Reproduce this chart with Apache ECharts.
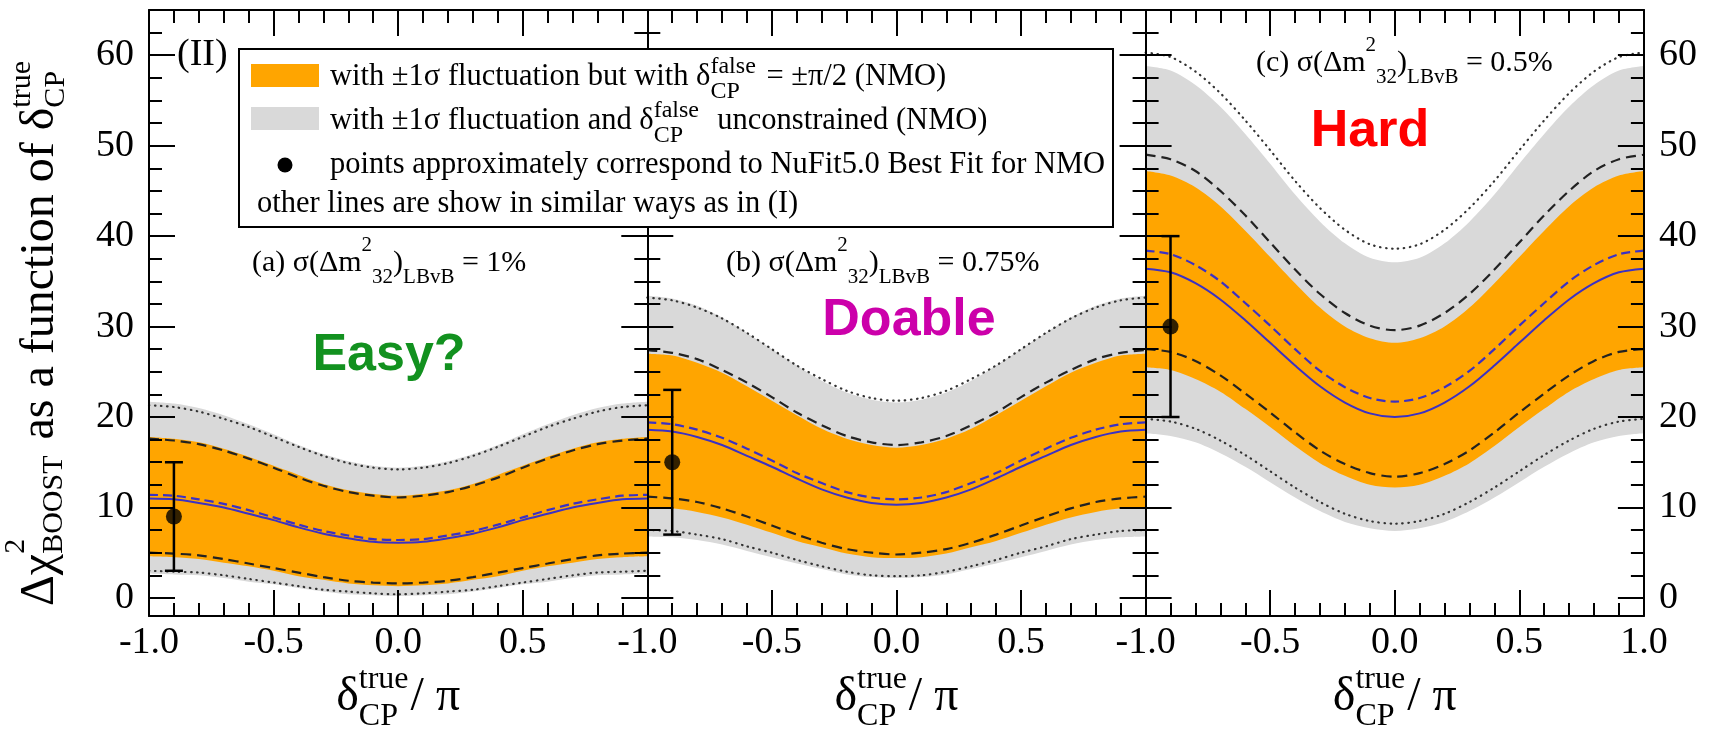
<!DOCTYPE html>
<html>
<head>
<meta charset="utf-8">
<script src="https://cdn.jsdelivr.net/npm/echarts@6/dist/echarts.min.js"></script>
<style>
  html, body { margin: 0; padding: 0; background: #fff; }
  #chart { width: 1713px; height: 731px; }
</style>
</head>
<body>
<div id="chart"></div>
<script>
// δ_CP^true / π sample positions shared by every curve
const deltaGrid = [-1, -0.9, -0.8, -0.7, -0.6, -0.5, -0.4, -0.3, -0.2, -0.1, 0,
                   0.1, 0.2, 0.3, 0.4, 0.5, 0.6, 0.7, 0.8, 0.9, 1];

// (a) σ(Δm²32) = 1%
const aGreyUpper   = [21.7, 21.5, 21.0, 20.2, 19.2, 18.1, 16.9, 15.9, 15.1, 14.6, 14.4, 14.6, 15.1, 15.9, 16.9, 18.1, 19.2, 20.2, 21.0, 21.5, 21.7];
const aGreyLower   = [2.7, 2.6, 2.5, 2.2, 1.8, 1.5, 1.1, 0.7, 0.4, 0.3, 0.2, 0.3, 0.4, 0.7, 1.1, 1.5, 1.8, 2.2, 2.5, 2.6, 2.7];
const aOrangeUpper = [17.8, 17.6, 17.2, 16.5, 15.6, 14.6, 13.6, 12.6, 11.9, 11.5, 11.3, 11.5, 11.9, 12.6, 13.6, 14.6, 15.6, 16.5, 17.2, 17.6, 17.8];
const aOrangeLower = [4.6, 4.5, 4.3, 3.9, 3.5, 3.0, 2.4, 2.0, 1.6, 1.4, 1.3, 1.4, 1.6, 2.0, 2.4, 3.0, 3.5, 3.9, 4.3, 4.5, 4.6];
const aDotUpper    = [21.3, 21.1, 20.6, 19.8, 18.9, 17.8, 16.7, 15.7, 14.9, 14.4, 14.2, 14.4, 14.9, 15.7, 16.7, 17.8, 18.9, 19.8, 20.6, 21.1, 21.3];
const aDotLower    = [3.0, 2.9, 2.8, 2.5, 2.1, 1.7, 1.3, 0.9, 0.7, 0.5, 0.4, 0.5, 0.7, 0.9, 1.3, 1.7, 2.1, 2.5, 2.8, 2.9, 3.0];
const aDashUpper   = [17.6, 17.4, 17.0, 16.3, 15.4, 14.4, 13.3, 12.4, 11.7, 11.3, 11.1, 11.3, 11.7, 12.4, 13.3, 14.4, 15.4, 16.3, 17.0, 17.4, 17.6];
const aDashLower   = [5.0, 4.9, 4.7, 4.3, 3.8, 3.3, 2.8, 2.3, 1.9, 1.7, 1.6, 1.7, 1.9, 2.3, 2.8, 3.3, 3.8, 4.3, 4.7, 4.9, 5.0];
const aBlueSolid   = [11.0, 10.9, 10.5, 10.0, 9.3, 8.6, 7.8, 7.1, 6.6, 6.2, 6.1, 6.2, 6.6, 7.1, 7.8, 8.6, 9.3, 10.0, 10.5, 10.9, 11.0];
const aBlueDashed  = [11.4, 11.3, 10.9, 10.4, 9.7, 8.9, 8.1, 7.4, 6.9, 6.5, 6.4, 6.5, 6.9, 7.4, 8.1, 8.9, 9.7, 10.4, 10.9, 11.3, 11.4];

// (b) σ(Δm²32) = 0.75%
const bGreyUpper   = [33.4, 33.1, 32.3, 31.0, 29.3, 27.5, 25.7, 24.0, 22.7, 21.9, 21.6, 21.9, 22.7, 24.0, 25.7, 27.5, 29.3, 31.0, 32.3, 33.1, 33.4];
const bGreyLower   = [6.8, 6.7, 6.4, 5.9, 5.2, 4.5, 3.8, 3.2, 2.6, 2.3, 2.2, 2.3, 2.6, 3.2, 3.8, 4.5, 5.2, 5.9, 6.4, 6.7, 6.8];
const bOrangeUpper = [27.0, 26.8, 26.0, 24.9, 23.4, 21.8, 20.2, 18.7, 17.6, 16.9, 16.6, 16.9, 17.6, 18.7, 20.2, 21.8, 23.4, 24.9, 26.0, 26.8, 27.0];
const bOrangeLower = [10.0, 9.9, 9.5, 8.9, 8.1, 7.2, 6.3, 5.6, 4.9, 4.5, 4.4, 4.5, 4.9, 5.6, 6.3, 7.2, 8.1, 8.9, 9.5, 9.9, 10.0];
const bDotUpper    = [33.2, 32.9, 32.1, 30.9, 29.3, 27.5, 25.7, 24.2, 22.9, 22.1, 21.8, 22.1, 22.9, 24.2, 25.7, 27.5, 29.3, 30.9, 32.1, 32.9, 33.2];
const bDotLower    = [7.5, 7.4, 7.0, 6.5, 5.7, 5.0, 4.2, 3.5, 2.9, 2.5, 2.4, 2.5, 2.9, 3.5, 4.2, 5.0, 5.7, 6.5, 7.0, 7.4, 7.5];
const bDashUpper   = [27.4, 27.1, 26.4, 25.2, 23.8, 22.2, 20.5, 19.1, 17.9, 17.2, 16.9, 17.2, 17.9, 19.1, 20.5, 22.2, 23.8, 25.2, 26.4, 27.1, 27.4];
const bDashLower   = [11.2, 11.0, 10.6, 9.9, 9.0, 8.0, 7.0, 6.1, 5.4, 5.0, 4.8, 5.0, 5.4, 6.1, 7.0, 8.0, 9.0, 9.9, 10.6, 11.0, 11.2];
const bBlueSolid   = [18.6, 18.4, 17.8, 16.9, 15.7, 14.5, 13.2, 12.0, 11.1, 10.5, 10.3, 10.5, 11.1, 12.0, 13.2, 14.5, 15.7, 16.9, 17.8, 18.4, 18.6];
const bBlueDashed  = [19.4, 19.2, 18.6, 17.7, 16.5, 15.2, 13.8, 12.7, 11.7, 11.1, 10.9, 11.1, 11.7, 12.7, 13.8, 15.2, 16.5, 17.7, 18.6, 19.2, 19.4];

// (c) σ(Δm²32) = 0.5%
const cGreyUpper   = [58.8, 58.3, 56.7, 54.3, 51.3, 48.0, 44.6, 41.6, 39.2, 37.6, 37.1, 37.6, 39.2, 41.6, 44.6, 48.0, 51.3, 54.3, 56.7, 58.3, 58.8];
const cGreyLower   = [18.2, 17.9, 17.2, 16.0, 14.5, 12.8, 11.1, 9.6, 8.4, 7.7, 7.4, 7.7, 8.4, 9.6, 11.1, 12.8, 14.5, 16.0, 17.2, 17.9, 18.2];
const cOrangeUpper = [47.2, 46.7, 45.4, 43.3, 40.6, 37.7, 34.8, 32.1, 30.0, 28.7, 28.2, 28.7, 30.0, 32.1, 34.8, 37.7, 40.6, 43.3, 45.4, 46.7, 47.2];
const cOrangeLower = [25.5, 25.2, 24.2, 22.8, 20.9, 18.9, 16.8, 14.9, 13.5, 12.5, 12.2, 12.5, 13.5, 14.9, 16.8, 18.9, 20.9, 22.8, 24.2, 25.2, 25.5];
const cDotUpper    = [60.3, 59.8, 58.2, 55.8, 52.8, 49.5, 46.1, 43.1, 40.7, 39.1, 38.6, 39.1, 40.7, 43.1, 46.1, 49.5, 52.8, 55.8, 58.2, 59.8, 60.3];
const cDotLower    = [19.8, 19.5, 18.7, 17.4, 15.8, 14.0, 12.2, 10.6, 9.3, 8.5, 8.2, 8.5, 9.3, 10.6, 12.2, 14.0, 15.8, 17.4, 18.7, 19.5, 19.8];
const cDashUpper   = [49.0, 48.5, 47.2, 45.0, 42.3, 39.3, 36.3, 33.6, 31.5, 30.1, 29.6, 30.1, 31.5, 33.6, 36.3, 39.3, 42.3, 45.0, 47.2, 48.5, 49.0];
const cDashLower   = [27.5, 27.2, 26.2, 24.6, 22.6, 20.5, 18.3, 16.3, 14.8, 13.8, 13.4, 13.8, 14.8, 16.3, 18.3, 20.5, 22.6, 24.6, 26.2, 27.2, 27.5];
const cBlueSolid   = [36.4, 36.0, 34.8, 33.0, 30.7, 28.2, 25.7, 23.4, 21.6, 20.4, 20.0, 20.4, 21.6, 23.4, 25.7, 28.2, 30.7, 33.0, 34.8, 36.0, 36.4];
const cBlueDashed  = [38.4, 38.0, 36.8, 35.0, 32.6, 30.1, 27.5, 25.1, 23.3, 22.1, 21.7, 22.1, 23.3, 25.1, 27.5, 30.1, 32.6, 35.0, 36.8, 38.0, 38.4];

// NuFit5.0 best-fit points with their error bars, one per panel
const bestFitX    = [-0.9, -0.9, -0.9];
const bestFitY    = [9, 15, 30];
const bestFitLow  = [3, 7, 20];
const bestFitHigh = [15, 23, 40];

// y tick positions
const yMajorTicks = [0, 10, 20, 30, 40, 50, 60];
const yMinorTicks = [2.5, 5, 7.5, 12.5, 15, 17.5, 22.5, 25, 27.5, 32.5, 35, 37.5,
                     42.5, 45, 47.5, 52.5, 55, 57.5, 62.5];

const panelLabels = ['1%', '0.75%', '0.5%'];
const panelTags = ['(a)', '(b)', '(c)'];
const verdicts = ['Easy?', 'Doable', 'Hard'];
const verdictColors = ['#12911f', '#cc00aa', '#ff0000'];

const panels = [
  { grey: [aGreyUpper, aGreyLower], orange: [aOrangeUpper, aOrangeLower], dot: [aDotUpper, aDotLower],
    dash: [aDashUpper, aDashLower], solid: aBlueSolid, bdash: aBlueDashed },
  { grey: [bGreyUpper, bGreyLower], orange: [bOrangeUpper, bOrangeLower], dot: [bDotUpper, bDotLower],
    dash: [bDashUpper, bDashLower], solid: bBlueSolid, bdash: bBlueDashed },
  { grey: [cGreyUpper, cGreyLower], orange: [cOrangeUpper, cOrangeLower], dot: [cDotUpper, cDotLower],
    dash: [cDashUpper, cDashLower], solid: cBlueSolid, bdash: cBlueDashed }
];

const SERIF = '"Liberation Serif", serif';
const SANS = '"Liberation Sans", Arial, sans-serif';
const GREY = '#d9d9d9', ORANGE = '#ffa500', BLUE = '#3b31c4';

const PLOT_LEFT = 149, PLOT_TOP = 10, PANEL_W = 498.3, PLOT_H = 606;

const pairs = (ys) => deltaGrid.map((x, i) => [x, ys[i]]);

// ---------- text layout helpers (super/subscripts) ----------
const measureCtx = document.createElement('canvas').getContext('2d');
function textW(str, size, family, weight) {
  measureCtx.font = (weight || 'normal') + ' ' + size + 'px ' + family;
  return measureCtx.measureText(str).width;
}
function txt(str, x, y, size, family, opts) {
  opts = opts || {};
  const font = (opts.weight || 'normal') + ' ' + size + 'px ' + family;
  return {
    type: 'text', x: x, y: y, z: 100, silent: true,
    style: {
      text: str, font: font, fill: opts.color || '#000',
      textAlign: opts.align || 'left', textVerticalAlign: 'middle',
      align: opts.align || 'left', verticalAlign: 'middle'
    }
  };
}
// parts: {t, size} plain run | {sup, sub, size, supDy, subDy} script block
function mathRun(parts, family) {
  const els = [];
  let cx = 0;
  parts.forEach(p => {
    if (p.t != null) {
      els.push(txt(p.t, cx, p.dy || 0, p.size, family));
      cx += textW(p.t, p.size, family);
    } else {
      let w = 0;
      if (p.sup != null) {
        els.push(txt(p.sup, cx, p.supDy, p.size, family));
        w = Math.max(w, textW(p.sup, p.size, family));
      }
      if (p.sub != null) {
        els.push(txt(p.sub, cx, p.subDy, p.size, family));
        w = Math.max(w, textW(p.sub, p.size, family));
      }
      cx += w + (p.gap || 0);
    }
  });
  return { els: els, width: cx };
}
function placeRun(run, x, y, align, rotation) {
  const shift = align === 'center' ? -run.width / 2 : 0;
  run.els.forEach(e => { e.x += shift; });
  return { type: 'group', x: x, y: y, rotation: rotation || 0, silent: true, children: run.els, z: 100 };
}

// ---------- grids and axes ----------
const grid = [], xAxis = [], yAxis = [], series = [];
const axisColor = { color: '#000', width: 2 };

for (let g = 0; g < 3; g++) {
  grid.push({ left: PLOT_LEFT + g * PANEL_W, top: PLOT_TOP, width: PANEL_W, height: PLOT_H });

  const xCommon = {
    type: 'value', gridIndex: g, min: -1, max: 1, interval: 0.5, z: 10,
    axisLine: { onZero: false, lineStyle: axisColor },
    axisTick: { inside: true, length: 26, lineStyle: axisColor },
    minorTick: { show: true, splitNumber: 5, length: 13, lineStyle: axisColor },
    splitLine: { show: false }, minorSplitLine: { show: false }
  };
  xAxis.push(Object.assign({}, xCommon, {
    position: 'bottom',
    axisLabel: {
      show: true, margin: 8, fontSize: 38, fontFamily: 'Liberation Serif', color: '#000',
      formatter: v => (g < 2 && v === 1) ? '' : v.toFixed(1)
    }
  }));
  xAxis.push(Object.assign({}, xCommon, { position: 'top', axisLabel: { show: false } }));

  ['left', 'right'].forEach(side => {
    const showLabels = (side === 'left' && g === 0) || (side === 'right' && g === 2);
    yAxis.push({
      type: 'value', gridIndex: g, position: side, min: -2, max: 65, z: 10,
      axisLine: { show: true, onZero: false, lineStyle: axisColor },
      axisTick: { inside: true, length: 26, lineStyle: axisColor, customValues: yMajorTicks },
      axisLabel: {
        show: showLabels, customValues: yMajorTicks, margin: 15,
        fontSize: 38, fontFamily: 'Liberation Serif', color: '#000'
      },
      splitLine: { show: false }
    });
    yAxis.push({
      type: 'value', gridIndex: g, position: side, min: -2, max: 65, z: 10,
      axisLine: { show: false, onZero: false },
      axisTick: { inside: true, length: 13, lineStyle: axisColor, customValues: yMinorTicks },
      axisLabel: { show: false },
      splitLine: { show: false }
    });
  });

  const xi = 2 * g, yi = 4 * g;
  const p = panels[g];
  const area = (ys, fill, z) => ({
    type: 'line', xAxisIndex: xi, yAxisIndex: yi, data: pairs(ys), smooth: 0.3,
    symbol: 'none', silent: true, z: z,
    lineStyle: { width: 0, opacity: 0 },
    areaStyle: { color: fill, opacity: 1, origin: 'start' }
  });
  const curve = (ys, style, z) => ({
    type: 'line', xAxisIndex: xi, yAxisIndex: yi, data: pairs(ys), smooth: 0.3,
    symbol: 'none', silent: true, z: z, lineStyle: style
  });
  // bands, painted outside-in
  series.push(area(p.grey[0], GREY, 1));
  series.push(area(p.orange[0], ORANGE, 2));
  series.push(area(p.orange[1], GREY, 3));
  series.push(area(p.grey[1], '#ffffff', 4));
  // boundary curves
  const dotted = { color: '#333', width: 2.2, type: [0.5, 5.5], cap: 'round' };
  const dashed = { color: '#222', width: 2.2, type: [10, 6] };
  series.push(curve(p.dot[0], dotted, 5));
  series.push(curve(p.dot[1], dotted, 5));
  series.push(curve(p.dash[0], dashed, 5));
  series.push(curve(p.dash[1], dashed, 5));
  series.push(curve(p.bdash, { color: BLUE, width: 2.2, type: [9, 5] }, 5));
  series.push(curve(p.solid, { color: BLUE, width: 2 }, 5));

  // error bar + best-fit marker
  series.push({
    type: 'custom', xAxisIndex: xi, yAxisIndex: yi, z: 7, silent: true,
    data: [[bestFitX[g], bestFitLow[g], bestFitHigh[g]]],
    encode: { x: 0, y: [1, 2] },
    renderItem: (params, api) => {
      const x = api.value(0);
      const lo = api.coord([x, api.value(1)]);
      const hi = api.coord([x, api.value(2)]);
      const cap = 9;
      const st = { stroke: '#000', lineWidth: 2.5 };
      return {
        type: 'group', children: [
          { type: 'line', shape: { x1: lo[0], y1: lo[1], x2: hi[0], y2: hi[1] }, style: st },
          { type: 'line', shape: { x1: lo[0] - cap, y1: lo[1], x2: lo[0] + cap, y2: lo[1] }, style: st },
          { type: 'line', shape: { x1: hi[0] - cap, y1: hi[1], x2: hi[0] + cap, y2: hi[1] }, style: st }
        ]
      };
    }
  });
  series.push({
    type: 'scatter', xAxisIndex: xi, yAxisIndex: yi, z: 8, silent: true,
    data: [[bestFitX[g], bestFitY[g]]], symbolSize: 16, itemStyle: { color: '#000' }
  });
}

// ---------- annotations ----------
const graphics = [];
const SUP = 21;

// x-axis titles
for (let g = 0; g < 3; g++) {
  const cx = PLOT_LEFT + g * PANEL_W + PANEL_W / 2;
  const run = mathRun([
    { t: 'δ', size: 48 },
    { sup: 'true', sub: 'CP', size: 32, supDy: -17, subDy: 20, gap: 2 },
    { t: '/ π', size: 48 }
  ], SERIF);
  graphics.push(placeRun(run, cx, 697, 'center'));
}

// y-axis title, rotated
(function () {
  const run = mathRun([
    { t: 'Δχ', size: 48 },
    { sup: '2', sub: 'BOOST', size: 30, supDy: -24, subDy: 14, gap: 4 },
    { t: ' as a function of δ', size: 48 },
    { sup: 'true', sub: 'CP', size: 30, supDy: -18, subDy: 16 }
  ], SERIF);
  graphics.push(placeRun(run, 40, 606, 'left', Math.PI / 2));
})();

// panel condition labels
const labelAnchors = [[252, 263], [726, 263], [1256, 63]];
for (let g = 0; g < 3; g++) {
  const run = mathRun([
    { t: panelTags[g] + ' σ(Δm', size: 30 },
    { sup: '2', size: SUP, supDy: -18 },
    { sub: '32', size: SUP, subDy: 14 },
    { t: ')', size: 30 },
    { sub: 'LBvB', size: SUP, subDy: 14 },
    { t: ' = ' + panelLabels[g], size: 30 }
  ], SERIF);
  graphics.push(placeRun(run, labelAnchors[g][0], labelAnchors[g][1], 'left'));
}

// verdict words
const verdictCenters = [[389, 356], [909, 321], [1370, 132]];
for (let g = 0; g < 3; g++) {
  graphics.push(txt(verdicts[g], verdictCenters[g][0], verdictCenters[g][1], 52, SANS,
    { weight: 'bold', color: verdictColors[g], align: 'center' }));
}

// series tag
graphics.push(txt('(II)', 177, 55, 38, SERIF));

// legend box
graphics.push({
  type: 'rect', z: 90, silent: true,
  shape: { x: 239, y: 49, width: 874, height: 178 },
  style: { fill: '#fff', stroke: '#000', lineWidth: 2 }
});
graphics.push({ type: 'rect', z: 95, silent: true, shape: { x: 251, y: 64, width: 68, height: 23 }, style: { fill: ORANGE } });
graphics.push({ type: 'rect', z: 95, silent: true, shape: { x: 251, y: 107, width: 68, height: 23 }, style: { fill: GREY } });
graphics.push({ type: 'circle', z: 95, silent: true, shape: { cx: 285, cy: 165, r: 7.5 }, style: { fill: '#000' } });

const LEG = 30.5, LEG_SCRIPT = 24;
graphics.push(placeRun(mathRun([
  { t: 'with ±1σ fluctuation but with δ', size: LEG },
  { sup: 'false', sub: 'CP', size: LEG_SCRIPT, supDy: -10, subDy: 15, gap: 3 },
  { t: ' = ±π/2 (NMO)', size: LEG }
], SERIF), 330, 77, 'left'));
graphics.push(placeRun(mathRun([
  { t: 'with ±1σ fluctuation and δ', size: LEG },
  { sup: 'false', sub: 'CP', size: LEG_SCRIPT, supDy: -10, subDy: 15, gap: 3 },
  { t: '  unconstrained (NMO)', size: LEG }
], SERIF), 330, 121, 'left'));
graphics.push(placeRun(mathRun([
  { t: 'points approximately correspond to NuFit5.0 Best Fit for NMO', size: LEG }
], SERIF), 330, 165, 'left'));
graphics.push(placeRun(mathRun([
  { t: 'other lines are show in similar ways as in (I)', size: LEG }
], SERIF), 257, 204, 'left'));

const chart = echarts.init(document.getElementById('chart'), null, { renderer: 'canvas' });
chart.setOption({
  animation: false,
  backgroundColor: '#fff',
  grid: grid,
  xAxis: xAxis,
  yAxis: yAxis,
  series: series,
  graphic: { elements: graphics }
});
</script>
</body>
</html>
